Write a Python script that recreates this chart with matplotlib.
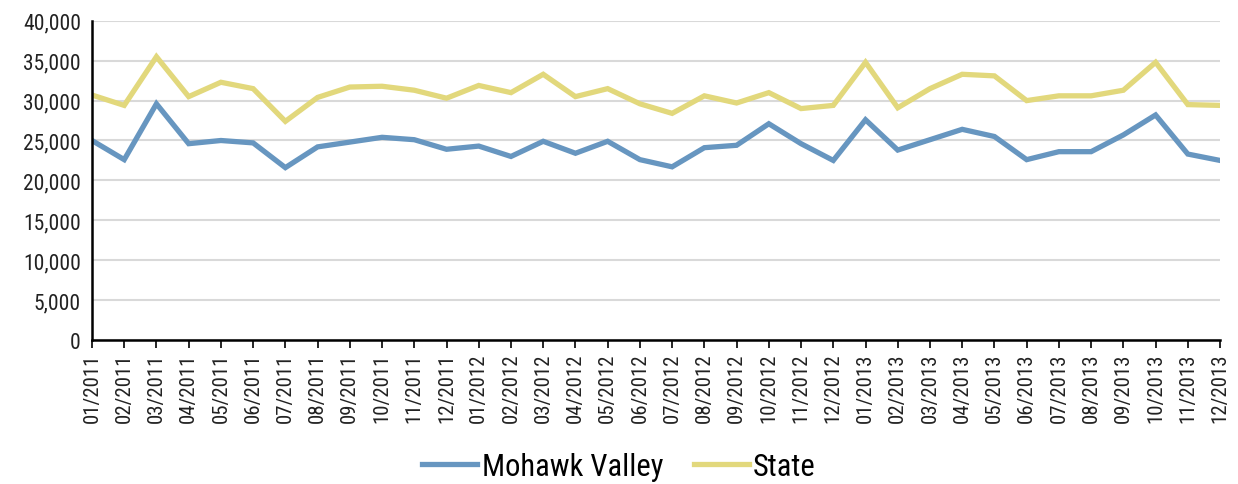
import matplotlib.pyplot as plt
from matplotlib import font_manager
from matplotlib.ticker import FuncFormatter

months = [f'{m:02d}/{y}' for y in (2011, 2012, 2013) for m in range(1, 13)]

mohawk_valley = [
    25000, 22600, 29600, 24600, 25000, 24700, 21600, 24200, 24800, 25400, 25100, 23900,
    24300, 23000, 24900, 23400, 24900, 22600, 21700, 24100, 24400, 27100, 24600, 22500,
    27600, 23800, 25100, 26400, 25500, 22600, 23600, 23600, 25700, 28200, 23300, 22500]
state = [
    30700, 29400, 35500, 30500, 32300, 31500, 27400, 30400, 31700, 31800, 31300, 30300,
    31900, 31000, 33300, 30500, 31500, 29600, 28400, 30600, 29700, 31000, 29000, 29400,
    34800, 29100, 31500, 33300, 33100, 30000, 30600, 30600, 31300, 34800, 29500, 29400]

# pick a narrow font if one is around
installed = {f.name for f in font_manager.fontManager.ttflist}
narrow = [n for n in ('Liberation Sans Narrow', 'Roboto Condensed', 'DejaVu Sans Condensed')
          if n in installed]
plt.rcParams['font.family'] = narrow + ['DejaVu Sans']
plt.rcParams['font.stretch'] = 'condensed'

fig = plt.figure(figsize=(12.38, 4.85), dpi=100)
ax = fig.add_axes([0.0743, 0.297, 0.9112, 0.658])

x = range(len(months))
ax.plot(x, mohawk_valley, color='#6796c0', lw=3.8, label='Mohawk Valley',
        solid_joinstyle='miter')
ax.plot(x, state, color='#e2d87c', lw=3.8, label='State', solid_joinstyle='miter')

ax.set_xlim(0, len(months) - 1)
ax.set_ylim(0, 40000)
ax.set_yticks(range(0, 40001, 5000))
ax.yaxis.set_major_formatter(FuncFormatter(lambda v, p: f'{int(v):,}'))
ax.set_xticks(list(x))
ax.set_xticklabels(months, rotation=90, fontsize=15, color='#222222')
ax.tick_params(axis='y', length=0, labelsize=15.5, labelcolor='#222222', pad=8)
ax.tick_params(axis='x', length=6, width=1.2, direction='out', pad=3)

ax.grid(axis='y', color='#d9d9d9', lw=1.5)
ax.set_axisbelow(True)
for s in ('top', 'right'):
    ax.spines[s].set_visible(False)
ax.spines['left'].set_linewidth(1.8)
ax.spines['bottom'].set_linewidth(1.8)

fig.legend(loc='lower center', bbox_to_anchor=(0.5, -0.05), ncol=2, frameon=False,
           fontsize=22, handlelength=1.8, handletextpad=0.15, columnspacing=1.0)

fig.savefig('out.png', dpi=100)
